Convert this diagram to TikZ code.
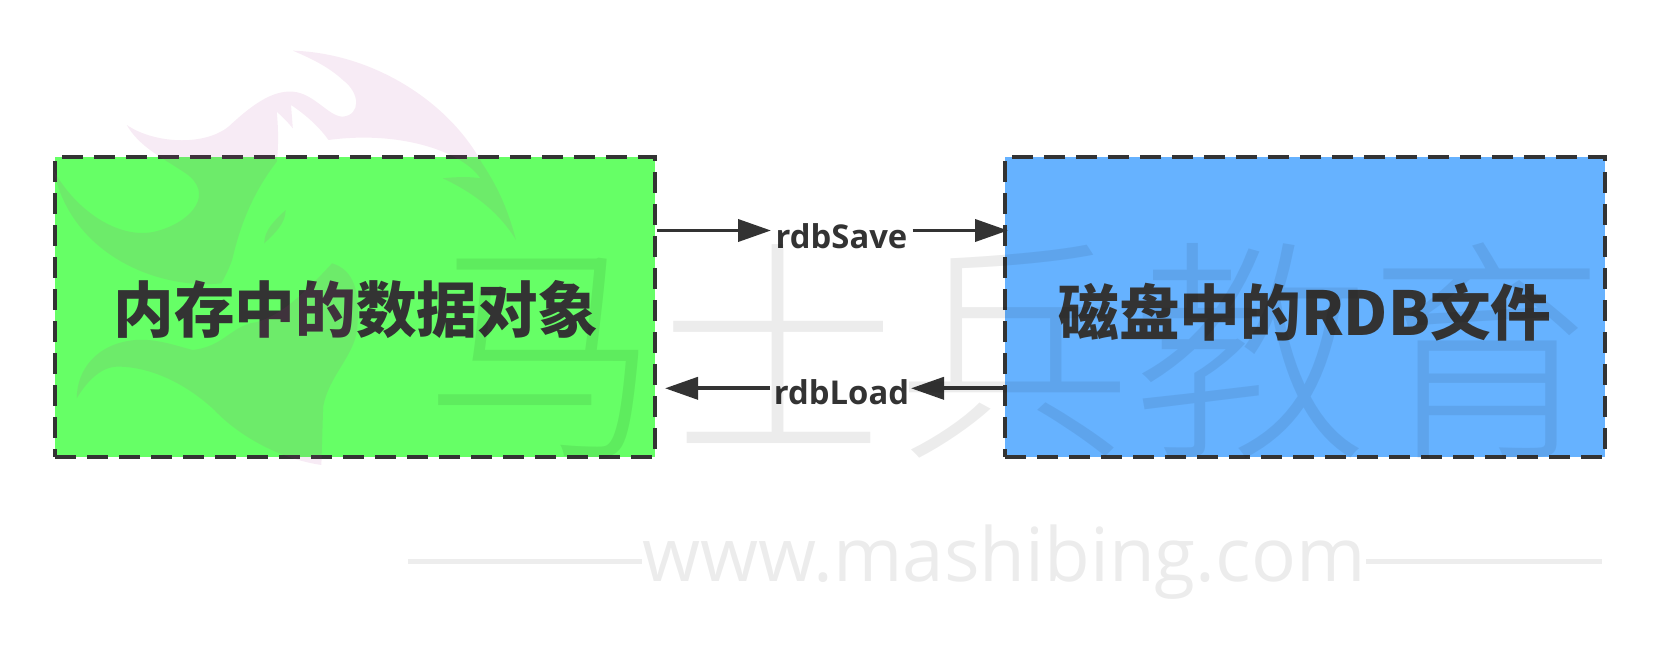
\documentclass[tikz,border=0pt]{standalone}
\usepackage{fontspec}
\setmainfont{Open Sans}
\newfontfamily\cjkbold{Noto Sans CJK SC Black}
\newfontfamily\cjkthin{Noto Sans CJK SC Light}
\newfontfamily\labelfont{Open Sans Bold}
\usetikzlibrary{arrows.meta}
\definecolor{ink}{HTML}{333333}
\definecolor{memgreen}{HTML}{66FF66}
\definecolor{diskblue}{HTML}{66B2FF}
\definecolor{flame}{RGB}{180,48,152}
\tikzset{
  storebox/.style={draw=ink,line width=2.1pt,dash pattern=on 10.5pt off 5.5pt,minimum width=300pt,minimum height=150pt,inner sep=0pt},
  boxtext/.style={text=ink,inner sep=0pt,font={\cjkbold\fontsize{30.3pt}{32pt}\selectfont}},
  oplabel/.style={inner sep=0pt,text=ink,font={\labelfont\fontsize{16.4pt}{18pt}\selectfont}},
  flow/.style={draw=ink,line width=1.9pt},
  flowhead/.style={flow,-{Triangle[length=16.5pt,width=11pt]}},
  wmtext/.style={inner sep=0pt,text=black,text opacity=.075},
  wmline/.style={draw=black,draw opacity=.07,line width=2.5pt},
  flamefill/.style={fill=flame,fill opacity=.095,draw=none},
}
\begin{document}
\begin{tikzpicture}[x=.5pt,y=-.5pt]
\useasboundingbox (0,0) rectangle (1656,652);
\fill[white] (0,0) rectangle (1656,652);
\node[storebox,fill=memgreen] (mem) at (355,307) {};
\node[storebox,fill=diskblue] (disk) at (1305.3,307) {};
\node[boxtext] (memt) at (356,310) {内存中的数据对象};
\node[boxtext] (diskt) at (1305,312) {磁盘中的RDB文件};
\node[oplabel] (save) at (841.5,236) {rdbSave};
\node[oplabel] (load) at (841.5,392) {rdbLoad};
\coordinate (s1) at (mem.east |- 0,230.5);
\coordinate (s2) at (771,230.5);
\coordinate (s3) at (912.5,230.5);
\coordinate (s4) at (1008,230.5);
\coordinate (l1) at (disk.west |- 0,388.3);
\coordinate (l2) at (911,388.3);
\coordinate (l3) at (770,388.3);
\coordinate (l4) at (665,388.3);
\draw[flowhead] (s1) -- (s2);
\draw[flowhead] (s3) -- (s4);
\draw[flowhead] (l1) -- (l2);
\draw[flowhead] (l3) -- (l4);
% flame logo (coordinates measured on a 2.8 x 3 grid)
\begin{scope}[x=.5pt/2.8,y=-.5pt/3,shift={(0,90)}]
\path[flamefill] (820,62) .. controls (1050,70) and (1260,220) .. (1350,400)
  .. controls (1400,480) and (1425,550) .. (1445,630)
  .. controls (1400,550) and (1330,490) .. (1240,445)
  .. controls (1280,440) and (1320,440) .. (1345,445)
  .. controls (1300,370) and (1130,300) .. (920,330)
  .. controls (890,285) and (850,250) .. (815,225)
  -- (820,295) .. controls (805,275) and (790,260) .. (775,245)
  .. controls (780,300) and (780,350) .. (775,395)
  .. controls (700,500) and (670,600) .. (650,690)
  .. controls (640,720) and (630,740) .. (620,760)
  .. controls (450,780) and (200,680) .. (150,420)
  .. controls (210,540) and (340,640) .. (450,600)
  .. controls (540,570) and (600,490) .. (520,430)
  .. controls (450,380) and (390,350) .. (355,285)
  .. controls (430,340) and (570,350) .. (640,290)
  .. controls (700,230) and (760,180) .. (820,185)
  .. controls (880,190) and (920,260) .. (960,260)
  .. controls (1010,255) and (1010,190) .. (960,150)
  .. controls (920,110) and (870,85) .. (820,62) -- cycle;
\path[flamefill] (800,540) .. controls (800,580) and (770,610) .. (740,640)
  .. controls (740,600) and (770,570) .. (800,540) -- cycle;
\path[flamefill] (215,1105) .. controls (215,1020) and (270,940) .. (380,930)
  .. controls (440,925) and (500,950) .. (540,960)
  .. controls (620,950) and (640,900) .. (700,880)
  .. controls (780,870) and (860,780) .. (930,700)
  .. controls (990,720) and (1010,780) .. (1000,900)
  .. controls (990,980) and (920,1040) .. (905,1130)
  -- (900,1305) .. controls (800,1290) and (680,1230) .. (600,1140)
  .. controls (520,1060) and (420,1010) .. (330,1010)
  .. controls (280,1010) and (240,1060) .. (215,1105) -- cycle;
\end{scope}
% watermark
\node[wmtext,font={\cjkthin\fontsize{118pt}{120pt}\selectfont}] (wm) at (1014,351) {马士兵教育};
\node[wmtext,font={\fontsize{37.3pt}{40pt}\selectfont}] (url) at (1004,562) {www.mashibing.com};
\coordinate (u1) at (408,561);
\coordinate (u2) at (1602,561);
\draw[wmline] (u1) -- (url.west |- u1);
\draw[wmline] (url.east |- u2) -- (u2);
\end{tikzpicture}
\end{document}
